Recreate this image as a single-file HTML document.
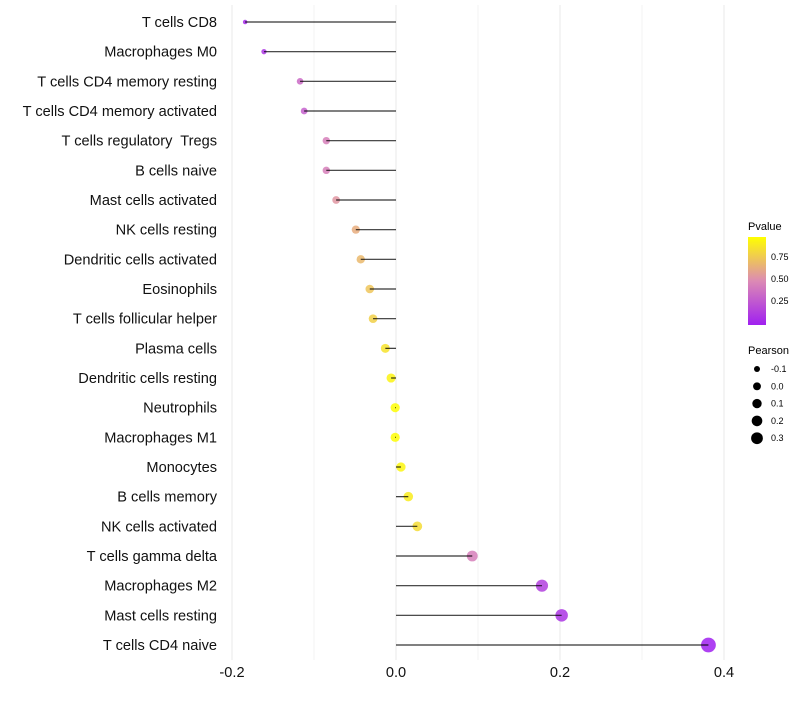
<!DOCTYPE html>
<html><head><meta charset="utf-8"><style>
body{margin:0;background:#fff;font-family:"Liberation Sans",sans-serif}
text{white-space:pre}
</style></head><body>
<svg id="chart" width="800" height="700" xmlns="http://www.w3.org/2000/svg" font-family="Liberation Sans, sans-serif">
<defs><linearGradient id="pg" x1="0" y1="1" x2="0" y2="0">
<stop offset="0" stop-color="#a020f0"/><stop offset="0.5" stop-color="#dc8ab4"/><stop offset="1" stop-color="#ffff00"/></linearGradient></defs>
<g id="grid"></g><g id="marks"></g><g id="labels"></g>
<g font-size="10">
<text x="748" y="230" font-size="11">Pvalue</text>
<rect x="748" y="237" width="18" height="88" fill="url(#pg)"/>
<text x="771" y="260" font-size="9">0.75</text>
<text x="771" y="282" font-size="9">0.50</text>
<text x="771" y="304" font-size="9">0.25</text>
<text x="748" y="354" font-size="11">Pearson</text>
<g id="sizeleg"></g>
</g>
</svg>
<script>
const categories=["T cells CD8","Macrophages M0","T cells CD4 memory resting","T cells CD4 memory activated","T cells regulatory  Tregs","B cells naive","Mast cells activated","NK cells resting","Dendritic cells activated","Eosinophils","T cells follicular helper","Plasma cells","Dendritic cells resting","Neutrophils","Macrophages M1","Monocytes","B cells memory","NK cells activated","T cells gamma delta","Macrophages M2","Mast cells resting","T cells CD4 naive"];
const pearson=[-0.184,-0.161,-0.117,-0.112,-0.085,-0.085,-0.073,-0.049,-0.043,-0.032,-0.028,-0.013,-0.006,-0.001,-0.001,0.006,0.015,0.026,0.093,0.178,0.202,0.381];
const pvalue=[0.05,0.1,0.35,0.3,0.45,0.45,0.55,0.65,0.7,0.75,0.8,0.88,0.95,0.99,0.99,0.96,0.92,0.85,0.45,0.15,0.1,0.0];
const xTicks=[-0.2,0,0.2,0.4];
const xTickLabels=["-0.2","0.0","0.2","0.4"];
const sizeLegend=[-0.1,0,0.1,0.2,0.3];
const sizeLegendLabels=["-0.1","0.0","0.1","0.2","0.3"];
const NS="http://www.w3.org/2000/svg";
const x=v=>396+v*820;
const y=i=>22+i*(623/(categories.length-1));
const r=v=>Math.sqrt(5+(v+0.184)/0.565*50);
function lerp(a,b,t){return a.map((c,k)=>Math.round(c+(b[k]-c)*t));}
function col(p){const A=[160,32,240],M=[220,138,180],B=[255,255,0];
 const c=p<0.5?lerp(A,M,p/0.5):lerp(M,B,(p-0.5)/0.5);return `rgb(${c})`;}
function mk(tag,at,parent){const e=document.createElementNS(NS,tag);for(const k in at)e.setAttribute(k,at[k]);parent.appendChild(e);return e;}
const grid=document.getElementById('grid'),marks=document.getElementById('marks'),labels=document.getElementById('labels');
for(let k=-2;k<=4;k++){const v=k/10;const e=mk('line',{x1:x(v),x2:x(v),y1:5,y2:660,stroke:'#ebebeb','stroke-width':Math.abs(k)%2?0.6:1.1},grid);

}
xTicks.forEach((v,i)=>{const t=mk('text',{x:x(v),y:677,'text-anchor':'middle','font-size':14.6,fill:'#111'},labels);t.textContent=xTickLabels[i];

});
categories.forEach((c,i)=>{
 const t=mk('text',{x:217,y:y(i)+5,'text-anchor':'end','font-size':14.6,fill:'#111'},labels);t.textContent=c;
 
 
 const d=mk('circle',{cx:x(pearson[i]),cy:y(i),r:r(pearson[i]),fill:col(pvalue[i]),'fill-opacity':0.85},marks);
 
 
 const l=mk('line',{x1:x(0),x2:x(pearson[i]),y1:y(i),y2:y(i),stroke:'#000','stroke-width':1.2,'stroke-opacity':0.8},marks);
 
 
});
const sl=document.getElementById('sizeleg');
sizeLegend.forEach((v,i)=>{const cy=369+i*17.3;
 const d=mk('circle',{cx:757,cy:cy,r:r(v)*0.85,fill:'#000'},sl);
 
 
 const t=mk('text',{x:771,y:cy+3,'font-size':9},sl);t.textContent=sizeLegendLabels[i];
 
 });
</script>
</body></html>
